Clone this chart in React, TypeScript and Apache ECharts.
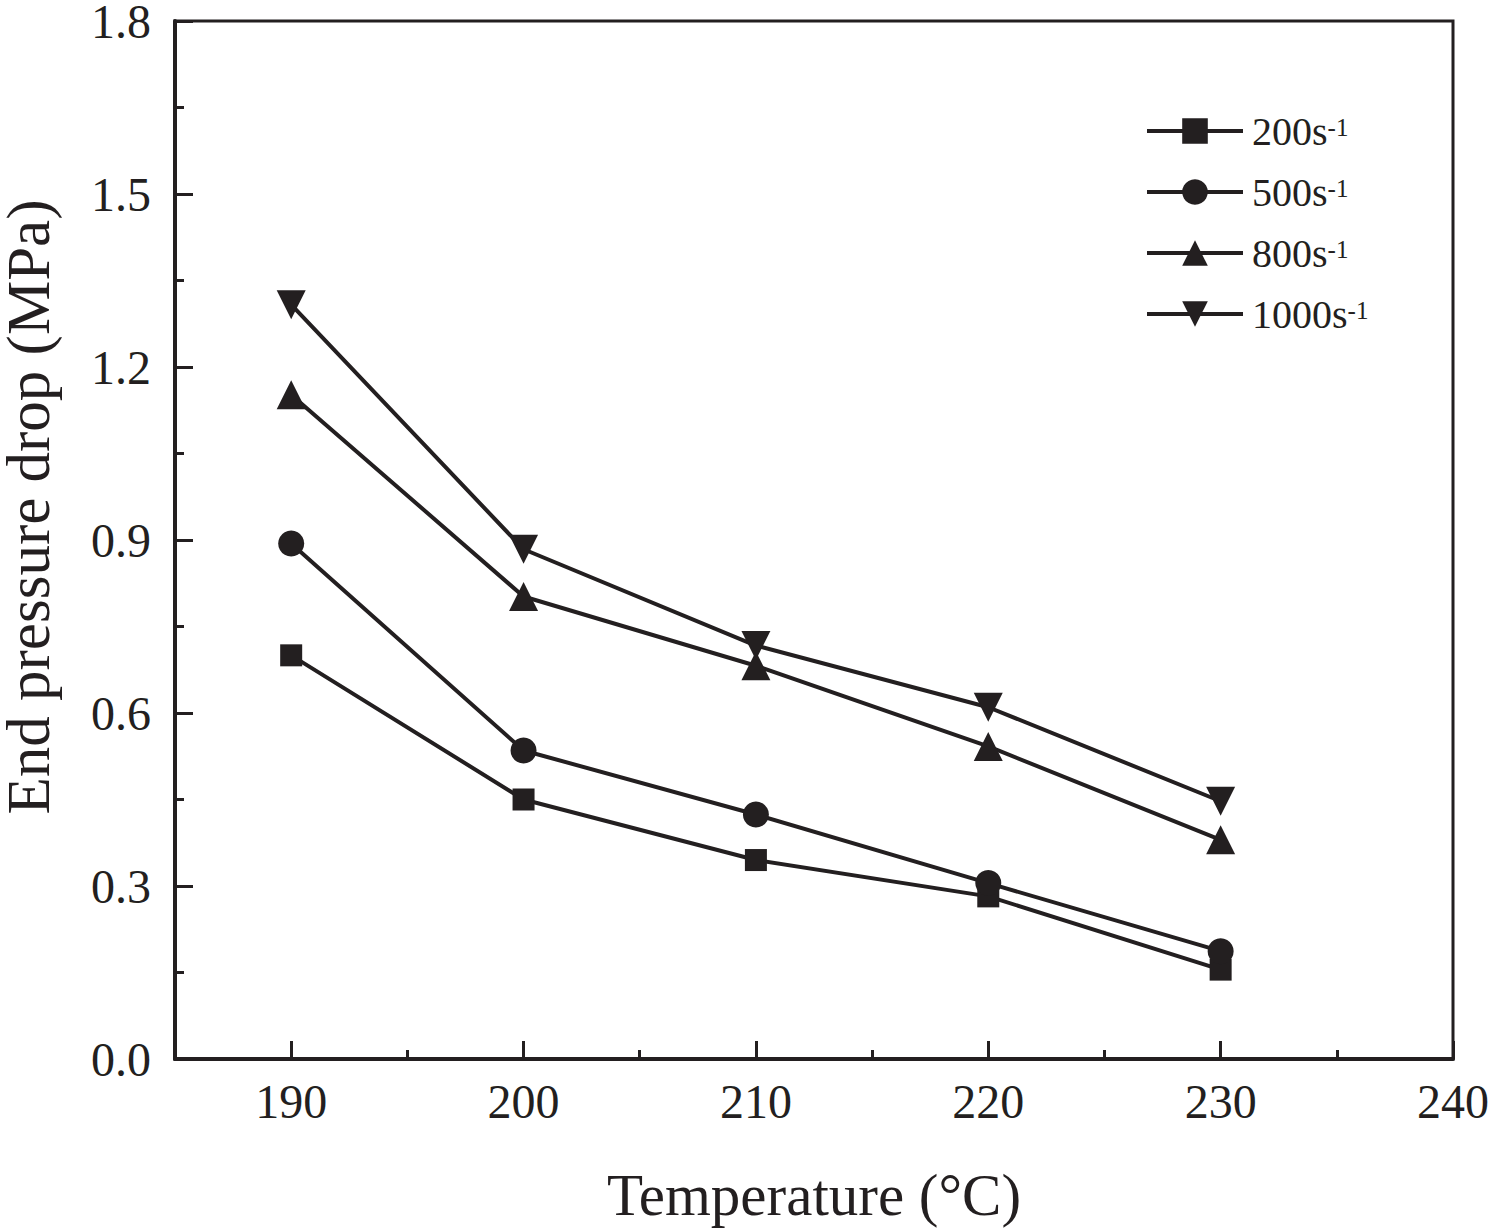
import React, { useEffect, useRef } from "react";
import * as echarts from "echarts";

const temps = [190, 200, 210, 220, 230];
const rate200 = [0.70, 0.45, 0.345, 0.282, 0.155];
const rate500 = [0.894, 0.535, 0.424, 0.305, 0.187];
const rate800 = [1.152, 0.802, 0.682, 0.542, 0.38];
const rate1000 = [1.308, 0.884, 0.717, 0.61, 0.447];
const seriesNames = ["200s", "500s", "800s", "1000s"];
const xMajor = [190, 200, 210, 220, 230, 240];
const xMinor = [195, 205, 215, 225, 235];

const INK = "#231f20";
const FONT = "'Liberation Serif', 'Times New Roman', serif";

export default function App() {
  const ref = useRef<HTMLDivElement>(null);
  useEffect(() => {
    const chart = echarts.init(ref.current!, null, { renderer: "svg" });
    const pairs = (vals: number[]) => temps.map((t, i) => [t, vals[i]]);
    const mk = (name: string, vals: number[], symbol: string, size: number) => ({
      type: "line",
      name,
      data: pairs(vals),
      symbol,
      symbolSize: size,
      lineStyle: { color: INK, width: 4 },
      itemStyle: { color: INK },
      z: 3,
    });
    chart.setOption({
      animation: false,
      backgroundColor: "#fff",
      textStyle: { fontFamily: FONT, color: INK },
      grid: {
        left: 175,
        right: 38,
        top: 21,
        bottom: 169,
        outerBoundsMode: "none",
        containLabel: false,
        show: true,
        borderColor: INK,
        borderWidth: 3,
        backgroundColor: "transparent",
      },
      legend: {
        left: 1145,
        top: 111,
        padding: 0,
        orient: "vertical",
        itemWidth: 96,
        itemHeight: 32,
        itemGap: 21,
        data: seriesNames,
        lineStyle: { width: 4, color: INK },
        itemStyle: { color: INK },
        formatter: (n: string) => `{a|${n}}{b|-1}`,
        textStyle: {
          fontFamily: FONT,
          color: INK,
          lineHeight: 32,
          rich: {
            a: { fontSize: 40, fontFamily: FONT, color: INK, lineHeight: 32, padding: [0, 0, 0, 4] },
            b: { fontSize: 25, fontFamily: FONT, color: INK, lineHeight: 20, verticalAlign: "top" },
          },
        },
      },
      xAxis: [
        {
          type: "value",
          min: 185,
          max: 240,
          splitLine: { show: false },
          axisLine: { show: true, lineStyle: { color: INK, width: 4 } },
          axisTick: { show: true, inside: true, length: 18, lineStyle: { color: INK, width: 3 }, customValues: xMajor },
          axisLabel: { customValues: xMajor, fontSize: 48, fontFamily: FONT, color: INK, margin: 18 },
          name: "Temperature (°C)",
          nameLocation: "middle",
          nameGap: 106,
          nameTextStyle: { fontSize: 59, fontFamily: FONT, color: INK },
        },
        {
          type: "value",
          min: 185,
          max: 240,
          position: "bottom",
          splitLine: { show: false },
          axisLine: { show: false },
          axisTick: { show: true, inside: true, length: 9, lineStyle: { color: INK, width: 3 }, customValues: xMinor },
          axisLabel: { show: false },
        },
      ],
      yAxis: {
        type: "value",
        min: 0,
        max: 1.8,
        interval: 0.3,
        splitLine: { show: false },
        axisLine: { show: true, lineStyle: { color: INK, width: 4 } },
        axisTick: { show: true, inside: true, length: 18, lineStyle: { color: INK, width: 3 } },
        minorTick: { show: true, splitNumber: 2, length: 9, lineStyle: { color: INK, width: 3 } },
        axisLabel: {
          fontSize: 48,
          lineHeight: 40,
          fontFamily: FONT,
          color: INK,
          margin: 24,
          formatter: (v: number) => v.toFixed(1),
        },
        name: "End pressure drop (MPa)",
        nameLocation: "middle",
        nameGap: 121,
        nameTextStyle: { fontSize: 61, lineHeight: 52, fontFamily: FONT, color: INK, padding: [0, 0, 0, 66] },
      },
      series: [
        mk(seriesNames[0], rate200, "rect", 22),
        mk(seriesNames[1], rate500, "circle", 26),
        mk(seriesNames[2], rate800, "triangle", 29),
        mk(seriesNames[3], rate1000, "path://M0,0 L10,0 L5,9 Z", 29),
      ],
    });
    return () => chart.dispose();
  }, []);
  return (
    <div
      ref={ref}
      style={{ position: "absolute", left: 0, top: 0, width: 1491, height: 1228 }}
    />
  );
}
